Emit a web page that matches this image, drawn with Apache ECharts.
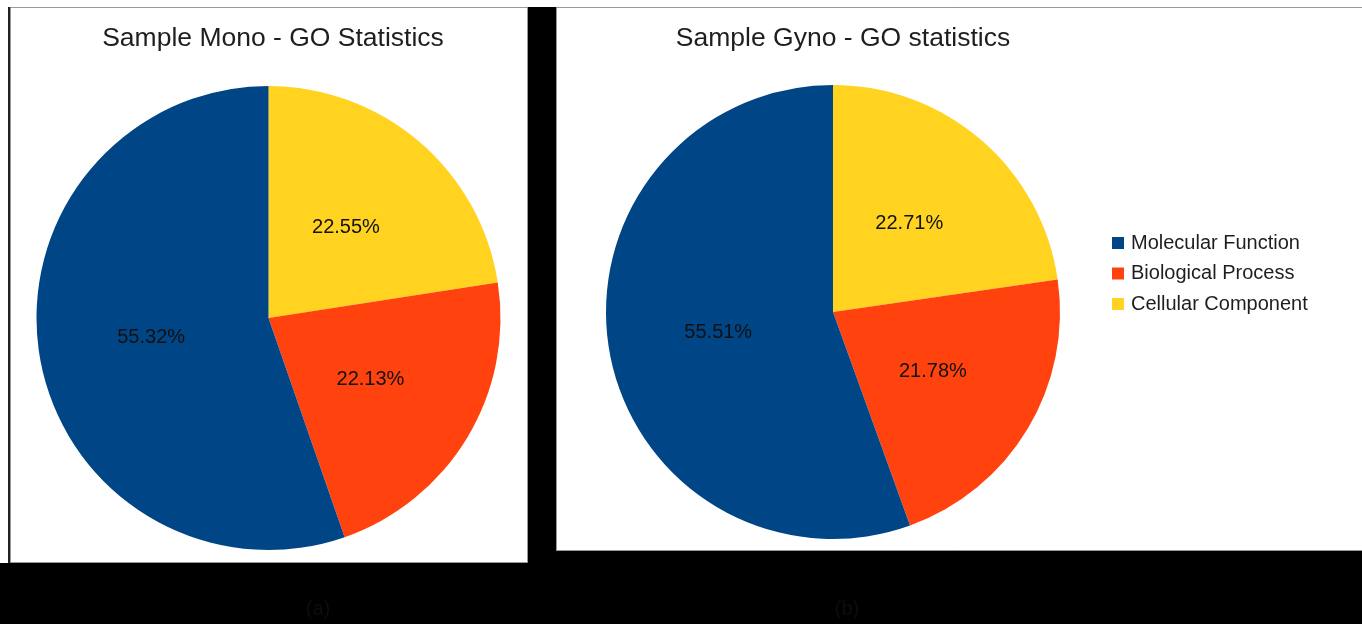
<!DOCTYPE html>
<html>
<head>
<meta charset="utf-8">
<title>GO Statistics</title>
<script src="https://cdn.jsdelivr.net/npm/echarts@6/dist/echarts.min.js"></script>
<style>
  html, body { margin: 0; padding: 0; background: #000; }
  #chart { width: 1362px; height: 624px; }
</style>
</head>
<body>
<div id="chart"></div>
<script>
// GO category names, in legend order
const categories = ['Molecular Function', 'Biological Process', 'Cellular Component'];
// Percentages per category (same order as categories)
const monoValues = [55.32, 22.13, 22.55];
const gynoValues = [55.51, 21.78, 22.71];
const chartTitles = ['Sample Mono - GO Statistics', 'Sample Gyno - GO statistics'];
const panelCaptions = ['(a)', '(b)'];

const sliceColors = {
  'Molecular Function': '#004586',
  'Biological Process': '#ff420e',
  'Cellular Component': '#ffd320'
};

const FONT = '"Liberation Sans", Arial, sans-serif';

// slices run clockwise from 12 o'clock: Cellular, Biological, Molecular
function pieData(values) {
  const order = [2, 1, 0];
  return order.map(i => ({
    name: categories[i],
    value: values[i],
    itemStyle: { color: sliceColors[categories[i]] }
  }));
}

function pieSeries(values, center, radius) {
  return {
    type: 'pie',
    center: center,
    radius: radius,
    startAngle: 90,
    clockwise: true,
    silent: true,
    animation: false,
    data: pieData(values),
    itemStyle: { borderWidth: 0 },
    label: {
      show: true,
      position: 'inside',
      formatter: p => p.value.toFixed(2) + '%',
      fontFamily: FONT,
      fontSize: 20,
      color: '#111',
      padding: [4, 0, 0, 0]
    },
    labelLine: { show: false },
    emphasis: { disabled: true }
  };
}

const chart = echarts.init(document.getElementById('chart'), null, { renderer: 'canvas' });

chart.setOption({
  backgroundColor: '#000',
  animation: false,
  graphic: [
    // white margins and the two chart panels
    { type: 'rect', z: -10, shape: { x: 0, y: 0, width: 1362, height: 7 }, style: { fill: '#fff' } },
    { type: 'rect', z: -10, shape: { x: 0, y: 0, width: 8, height: 563 }, style: { fill: '#fff' } },
    { type: 'rect', z: -9, shape: { x: 8, y: 7, width: 2, height: 556 }, style: { fill: '#222' } },
    { type: 'rect', z: -9, shape: { x: 10.5, y: 7.5, width: 517, height: 555 }, style: { fill: '#fff', stroke: '#999', lineWidth: 1 } },
    { type: 'rect', z: -9, shape: { x: 556.5, y: 7.5, width: 806, height: 543 }, style: { fill: '#fff', stroke: '#999', lineWidth: 1 } },
    // panel captions
    { type: 'text', z: 10, x: 318, y: 609, style: { text: panelCaptions[0], fill: '#0d0d0d', font: '20px ' + FONT, align: 'center', verticalAlign: 'middle' } },
    { type: 'text', z: 10, x: 847, y: 609, style: { text: panelCaptions[1], fill: '#0d0d0d', font: '20px ' + FONT, align: 'center', verticalAlign: 'middle' } }
  ],
  title: [
    {
      text: chartTitles[0], left: 273, top: 25, textAlign: 'center', padding: 0,
      textStyle: { fontFamily: FONT, fontSize: 26.5, fontWeight: 'normal', color: '#1e1e1e' }
    },
    {
      text: chartTitles[1], left: 843, top: 25, textAlign: 'center', padding: 0,
      textStyle: { fontFamily: FONT, fontSize: 26.5, fontWeight: 'normal', color: '#1e1e1e' }
    }
  ],
  legend: {
    data: categories,
    orient: 'vertical',
    left: 1107,
    top: 228,
    icon: 'rect',
    itemWidth: 12,
    itemHeight: 12,
    itemGap: 10.5,
    selectedMode: false,
    textStyle: { fontFamily: FONT, fontSize: 20, color: '#1e1e1e', padding: [0, 0, 0, 2] }
  },
  series: [
    pieSeries(monoValues, [268.5, 318], 232),
    pieSeries(gynoValues, [833, 312], 227)
  ]
});
</script>
</body>
</html>
